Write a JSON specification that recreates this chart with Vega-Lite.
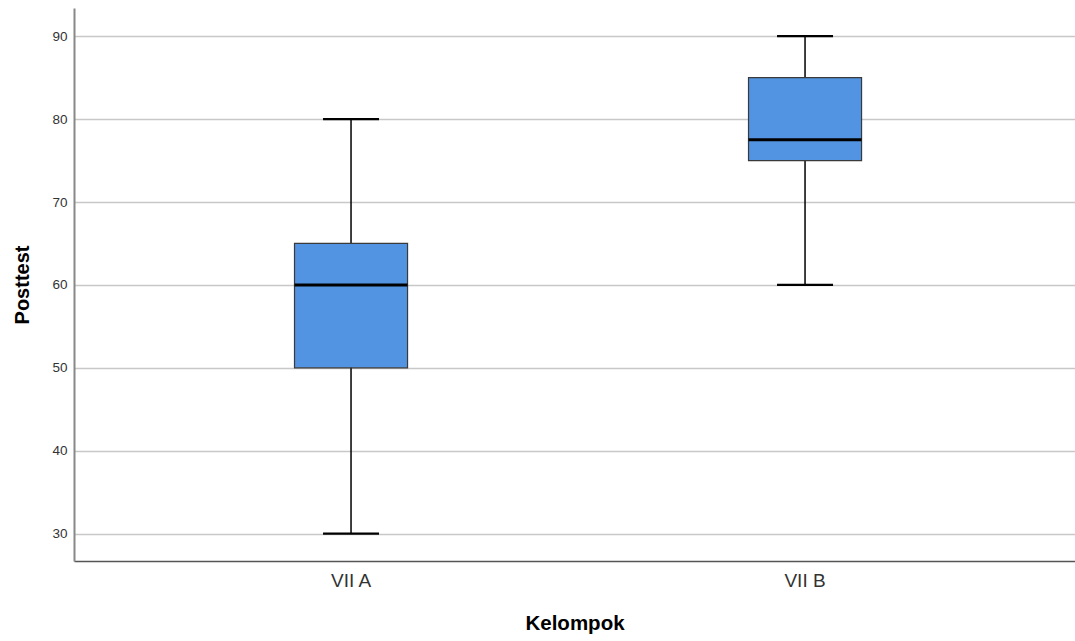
{
  "$schema": "https://vega.github.io/schema/vega-lite/v6.json",
  "width": 1001,
  "height": 553,
  "autosize": {"type": "none"},
  "padding": {"left": 74, "top": 8, "right": 0, "bottom": 80},
  "background": "white",
  "config": {
    "view": {"stroke": null},
    "font": "Liberation Sans"
  },
  "data": {
    "values": [
      {"Kelompok": "VII A", "min": 30, "q1": 50, "median": 60, "q3": 65, "max": 80},
      {"Kelompok": "VII B", "min": 60, "q1": 75, "median": 77.5, "q3": 85, "max": 90}
    ]
  },
  "encoding": {
    "x": {
      "field": "Kelompok",
      "type": "nominal",
      "scale": {"type": "band", "domain": ["VII A", "VII B"], "paddingInner": 0, "paddingOuter": 0.1024, "align": 0.538},
      "axis": {
        "title": "Kelompok",
        "labelAngle": 0,
        "ticks": false,
        "labelFontSize": 19,
        "labelColor": "#333",
        "labelPadding": 10,
        "titleFontSize": 20.5,
        "titleFontWeight": "bold",
        "titleColor": "#000",
        "titlePadding": 23,
        "domainColor": "#555",
        "domainWidth": 1.5,
        "grid": false
      }
    }
  },
  "layer": [
    {
      "mark": {"type": "rule", "color": "#000", "strokeWidth": 1.5},
      "encoding": {
        "y": {
          "field": "min",
          "type": "quantitative",
          "scale": {"domain": [26.7, 93.4], "nice": false, "zero": false},
          "axis": {
            "title": "Posttest",
            "values": [30, 40, 50, 60, 70, 80, 90],
            "ticks": false,
            "labelFontSize": 13.5,
            "labelColor": "#333",
            "labelPadding": 7,
            "titleFontSize": 20,
            "titleFontWeight": "bold",
            "titleColor": "#000",
            "titlePadding": 19,
            "domainColor": "#888",
            "domainWidth": 2,
            "gridColor": "#c8c8c8",
            "gridWidth": 1.5
          }
        },
        "y2": {"field": "max"}
      }
    },
    {
      "mark": {"type": "bar", "fill": "#5294e2", "stroke": "#3a3a3a", "strokeWidth": 1.2, "width": {"band": 0.249}},
      "encoding": {
        "y": {"field": "q1", "type": "quantitative"},
        "y2": {"field": "q3"}
      }
    },
    {
      "mark": {"type": "tick", "color": "#000", "size": 113, "thickness": 3, "opacity": 1},
      "encoding": {"y": {"field": "median", "type": "quantitative"}}
    },
    {
      "mark": {"type": "tick", "color": "#000", "size": 56, "thickness": 2.2, "opacity": 1},
      "encoding": {"y": {"field": "min", "type": "quantitative"}}
    },
    {
      "mark": {"type": "tick", "color": "#000", "size": 56, "thickness": 2.2, "opacity": 1},
      "encoding": {"y": {"field": "max", "type": "quantitative"}}
    }
  ]
}
